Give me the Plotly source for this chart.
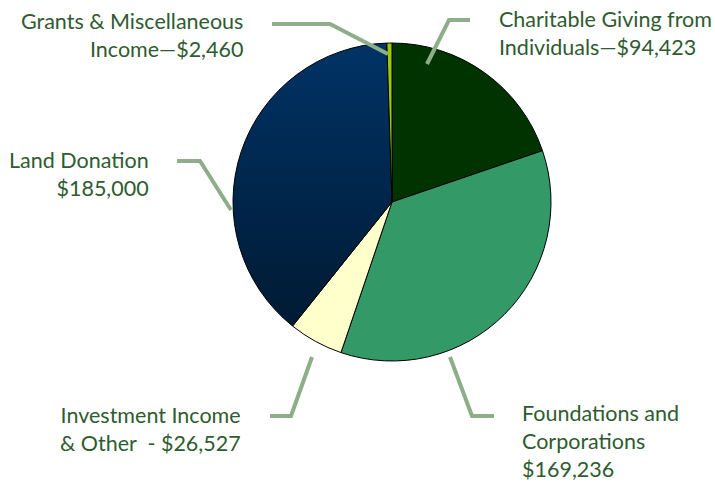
import plotly.graph_objects as go

categories = ["Charitable Giving from Individuals", "Foundations and Corporations",
              "Investment Income & Other", "Land Donation", "Grants & Miscellaneous Income"]
values = [94423, 169236, 26527, 185000, 2460]
label_texts = ["Charitable Giving from<br>Individuals\u2014$94,423",
               "Foundations and<br>Corporations<br>$169,236",
               "Investment Income<br>& Other  - $26,527",
               "Land Donation<br>$185,000",
               "Grants & Miscellaneous<br>Income\u2014$2,460"]
colors = ["#003300", "#339966", "#FFFFCC", "#012a55", "#99CC00"]

W, H = 715, 482
def px(x): return x / W
def py(y): return 1 - y / H

fig = go.Figure(go.Pie(
    labels=categories, values=values, sort=False, direction="clockwise", rotation=0,
    marker=dict(colors=colors, line=dict(color="#000000", width=1)),
    textinfo="none", showlegend=False,
    domain=dict(x=[px(233), px(551)], y=[py(361), py(43)]),
))

# leader lines (pixel positions)
leaders = [
    [(470, 20), (449, 20), (427, 64)],
    [(494, 416), (472, 416), (450, 357)],
    [(270, 416), (291, 416), (312, 357)],
    [(177, 161), (200, 161), (231, 210)],
    [(272, 24), (330, 24), (388, 54)],
]
shapes = []
for pts in leaders:
    path = "M " + " L ".join(f"{px(x)},{py(y)}" for x, y in pts)
    shapes.append(dict(type="path", xref="paper", yref="paper", path=path,
                       line=dict(color="#8DAE88", width=4)))

# label positions: (x, y_top, anchor)
label_pos = [
    (497, 4, "left"),
    (520, 398, "left"),
    (243, 400, "right"),
    (151, 145, "right"),
    (245, 6, "right"),
]
annotations = []
for txt, (x, y, a) in zip(label_texts, label_pos):
    annotations.append(dict(x=px(x), y=py(y), xref="paper", yref="paper",
                            xanchor=a, yanchor="top", align=a, text=txt,
                            showarrow=False,
                            font=dict(family="Lato", size=21.5, color="#2E5B30")))

fig.update_layout(width=W, height=H, margin=dict(l=0, r=0, t=0, b=0),
                  paper_bgcolor="white", plot_bgcolor="white",
                  shapes=shapes, annotations=annotations)

post = """
document.body.style.margin='0';
try {
  var gd = document.getElementById('{plot_id}');
  var svg = gd.querySelector('svg.main-svg');
  var ns = 'http://www.w3.org/2000/svg';
  var defs = svg.querySelector('defs') || svg.insertBefore(document.createElementNS(ns,'defs'), svg.firstChild);
  var g = document.createElementNS(ns,'linearGradient');
  g.setAttribute('id','landgrad'); g.setAttribute('x1','0'); g.setAttribute('y1','0');
  g.setAttribute('x2','0'); g.setAttribute('y2','1');
  var s1 = document.createElementNS(ns,'stop'); s1.setAttribute('offset','0'); s1.setAttribute('stop-color','#003366');
  var s2 = document.createElementNS(ns,'stop'); s2.setAttribute('offset','1'); s2.setAttribute('stop-color','#001a33');
  g.appendChild(s1); g.appendChild(s2); defs.appendChild(g);
  var paths = gd.querySelectorAll('.slice path.surface');
  if (paths.length > 3) { paths[3].style.fill = 'url(#landgrad)'; }
} catch(e) {}
"""
fig.write_html("out.html", post_script=post, config={"displayModeBar": False})
